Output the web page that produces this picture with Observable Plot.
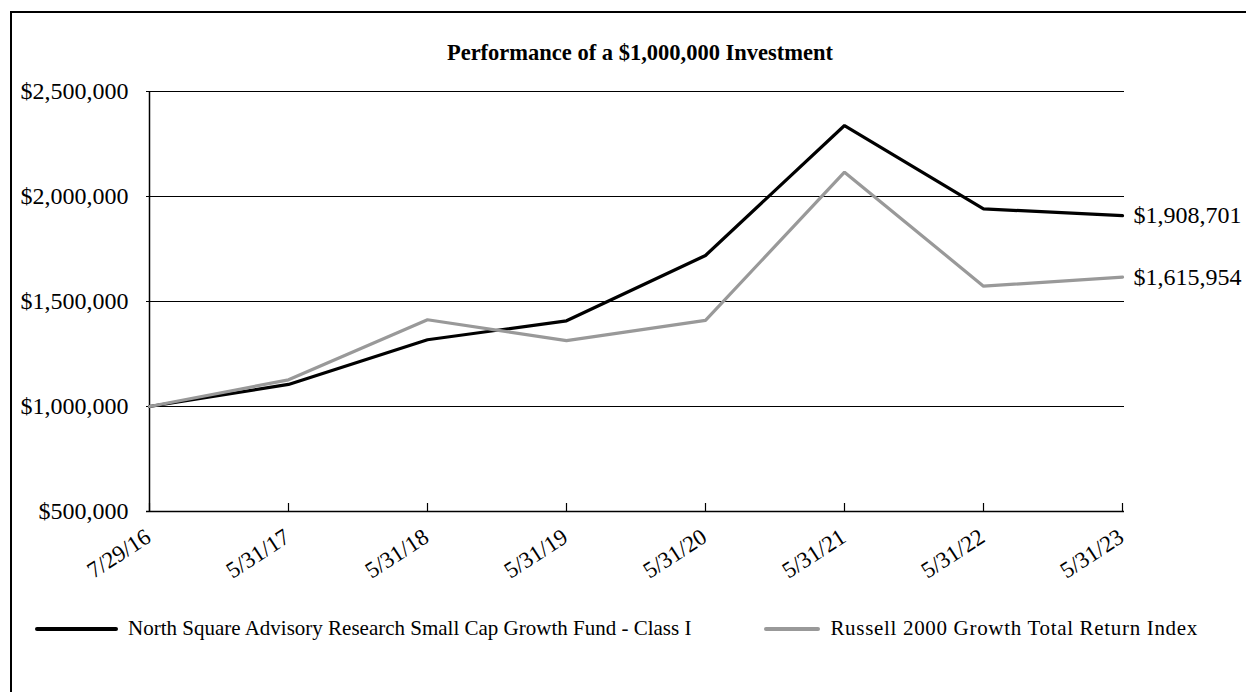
<!DOCTYPE html>
<html>
<head>
<meta charset="utf-8">
<script src="https://cdn.jsdelivr.net/npm/d3@7"></script>
<script src="https://cdn.jsdelivr.net/npm/@observablehq/plot@0.6"></script>
<style>
  html, body { margin: 0; padding: 0; background: #fff; overflow: hidden; }
  #wrap { position: relative; width: 1246px; height: 692px; font-family: "Liberation Serif", "DejaVu Serif", serif; }
  #frame { position: absolute; left: 10px; top: 11px; width: 1400px; height: 900px; border: 2px solid #000; box-sizing: border-box; }
  #title { position: absolute; left: 0; width: 1280px; top: 40px; text-align: center; font-weight: bold; font-size: 22.5px; color: #000; }
  #chart { position: absolute; left: 0; top: 0; }
  #legend { position: absolute; top: 616px; left: 35px; display: flex; align-items: center; font-size: 21px; color: #000; white-space: nowrap; }
  .sw { display: inline-block; height: 4px; border-radius: 2px; margin-right: 10px; }
</style>
</head>
<body>
<div id="wrap">
  <div id="frame"></div>
  <div id="title">Performance of a $1,000,000 Investment</div>
  <div id="chart"></div>
  <div id="legend"></div>
</div>
<script>
const dates = ["7/29/16", "5/31/17", "5/31/18", "5/31/19", "5/31/20", "5/31/21", "5/31/22", "5/31/23"];
const fundName = "North Square Advisory Research Small Cap Growth Fund - Class I";
const indexName = "Russell 2000 Growth Total Return Index";
const fundValues = [1000000, 1105000, 1318000, 1408000, 1719000, 2338000, 1941000, 1908701];
const indexValues = [1000000, 1127000, 1413000, 1314000, 1410000, 2116000, 1573000, 1615954];
const yTicks = [500000, 1000000, 1500000, 2000000, 2500000];
const seriesNames = [fundName, indexName];
const seriesColors = ["#000000", "#999999"];

const rows = [];
dates.forEach((d, i) => {
  rows.push({date: d, value: fundValues[i], series: fundName});
  rows.push({date: d, value: indexValues[i], series: indexName});
});
const lastRows = rows.filter(r => r.date === dates[dates.length - 1]);
const fmt = d3.format("$,.0f");

const W = 1246, H = 600, mT = 91, mB = 89, mL = 146, mR = 122;
const plotH = H - mT - mB;

const chart = Plot.plot({
  width: W,
  height: H,
  marginTop: mT,
  marginBottom: mB,
  marginLeft: mL,
  marginRight: mR,
  style: {fontFamily: '"Liberation Serif", serif', fontSize: "24px", color: "#000", background: "transparent", overflow: "visible"},
  x: {type: "point", domain: dates, padding: 0, label: null, axis: null},
  y: {domain: [500000, 2500000], label: null},
  color: {domain: seriesNames, range: seriesColors},
  marks: [
    Plot.ruleY(yTicks.slice(1), {stroke: "#000", strokeWidth: 1.2}),
    Plot.ruleY([yTicks[0]], {stroke: "#000", strokeWidth: 1.5}),
    Plot.ruleX([dates[0]], {stroke: "#000", strokeWidth: 1.5}),
    Plot.ruleX(dates, {stroke: "#000", strokeWidth: 1.2, insetTop: plotH - 8}),
    Plot.axisY({ticks: yTicks, tickFormat: fmt, tickSize: 0, tickPadding: 18, fontSize: 24}),
    Plot.text(dates, {x: d => d, frameAnchor: "bottom", text: d => d, rotate: -33, textAnchor: "end", lineAnchor: "middle", dx: -1, dy: 23, fontSize: 23, fill: "#000"}),
    Plot.line(rows, {x: "date", y: "value", z: "series", stroke: "series", strokeWidth: 3.2, strokeLinejoin: "miter"}),
    Plot.text(lastRows, {x: "date", y: "value", text: d => fmt(d.value), textAnchor: "start", dx: 11, fontSize: 24, fill: "#000"})
  ]
});
document.getElementById("chart").appendChild(chart);

const legend = document.getElementById("legend");
seriesNames.forEach((name, i) => {
  const item = document.createElement("span");
  item.style.display = "inline-flex";
  item.style.alignItems = "center";
  item.style.marginRight = i === 0 ? "73px" : "0";
  const sw = document.createElement("span");
  sw.className = "sw";
  sw.style.width = i === 0 ? "83px" : "56px";
  sw.style.background = seriesColors[i];
  const label = document.createElement("span");
  label.textContent = name;
  if (i === 1) label.style.letterSpacing = "0.68px";
  item.appendChild(sw);
  item.appendChild(label);
  legend.appendChild(item);
});
</script>
</body>
</html>
